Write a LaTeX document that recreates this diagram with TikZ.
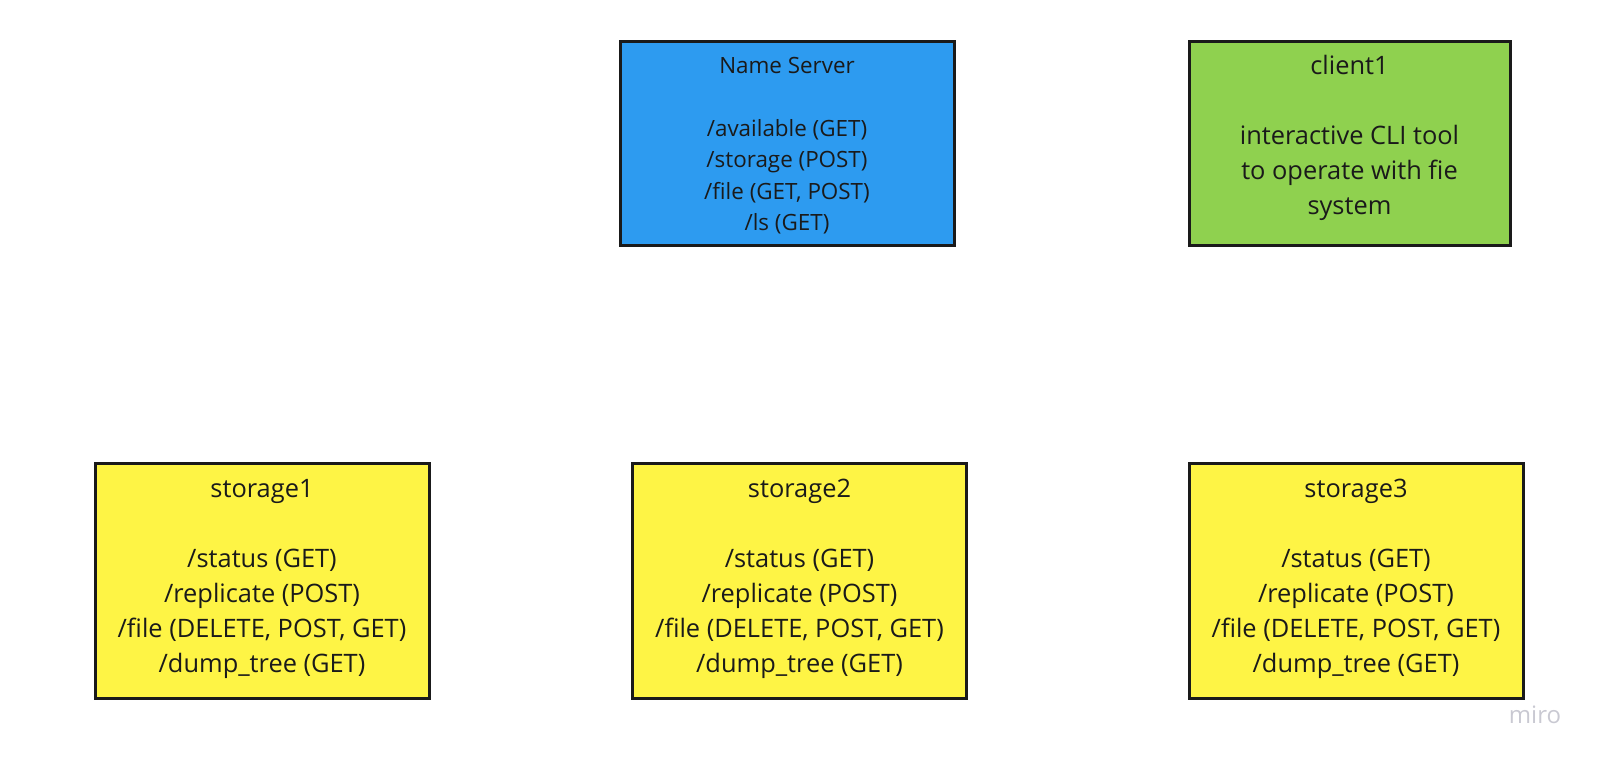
\documentclass[tikz,border=0pt]{standalone}
\usepackage{fontspec}
\setmainfont{Open Sans}
\usepackage{tikz}
\usetikzlibrary{positioning}

\definecolor{nsblue}{HTML}{2D9BF0}
\definecolor{clientgreen}{HTML}{8FD14F}
\definecolor{storageyellow}{HTML}{FEF445}
\definecolor{inkdark}{HTML}{1A1A1A}
\definecolor{mirogray}{HTML}{C9C9D2}

\begin{document}
\begin{tikzpicture}[x=0.5pt, y=-0.5pt,
    box/.style={draw=inkdark, line width=1.5pt, minimum width=167pt, minimum height=102pt, inner sep=0pt},
    boxtext/.style={align=center, text=inkdark, inner sep=0pt, font=\fontsize{12.7}{17.5}\selectfont},
    smalltext/.style={boxtext, font=\fontsize{11.2}{15.75}\selectfont}]
    \useasboundingbox (0,0) rectangle (1597,757);

    % top row
    \node[box, fill=nsblue] (ns) at (787,143) {};
    \node[smalltext, below=8.5pt of ns.north] (ns text) {
        Name Server\\[15.75pt]
        /available (GET)\\
        /storage (POST)\\
        /file (GET, POST)\\
        /ls (GET)
    };
    \node[box, fill=clientgreen, minimum width=160.5pt] (client1) at (1349.5,143) {};
    \node[boxtext, below=7.5pt of client1.north] (client1 text) {
        client1\\[17.5pt]
        interactive CLI tool\\
        to operate with fie\\
        system
    };

    % storages
    \foreach \name/\x in {storage1/262, storage2/799.5, storage3/1356} {
        \node[box, fill=storageyellow, minimum height=117.5pt] (\name) at (\x,580.5) {};
        \node[boxtext, below=8.5pt of \name.north] (\name text) {
            \name\\[17.5pt]
            /status (GET)\\
            /replicate (POST)\\
            /file (DELETE, POST, GET)\\
            /dump\_tree (GET)
        };
    }

    \node[text=mirogray, font=\fontsize{12}{14}\selectfont] (miro) at (1535,715) {miro};
\end{tikzpicture}
\end{document}
